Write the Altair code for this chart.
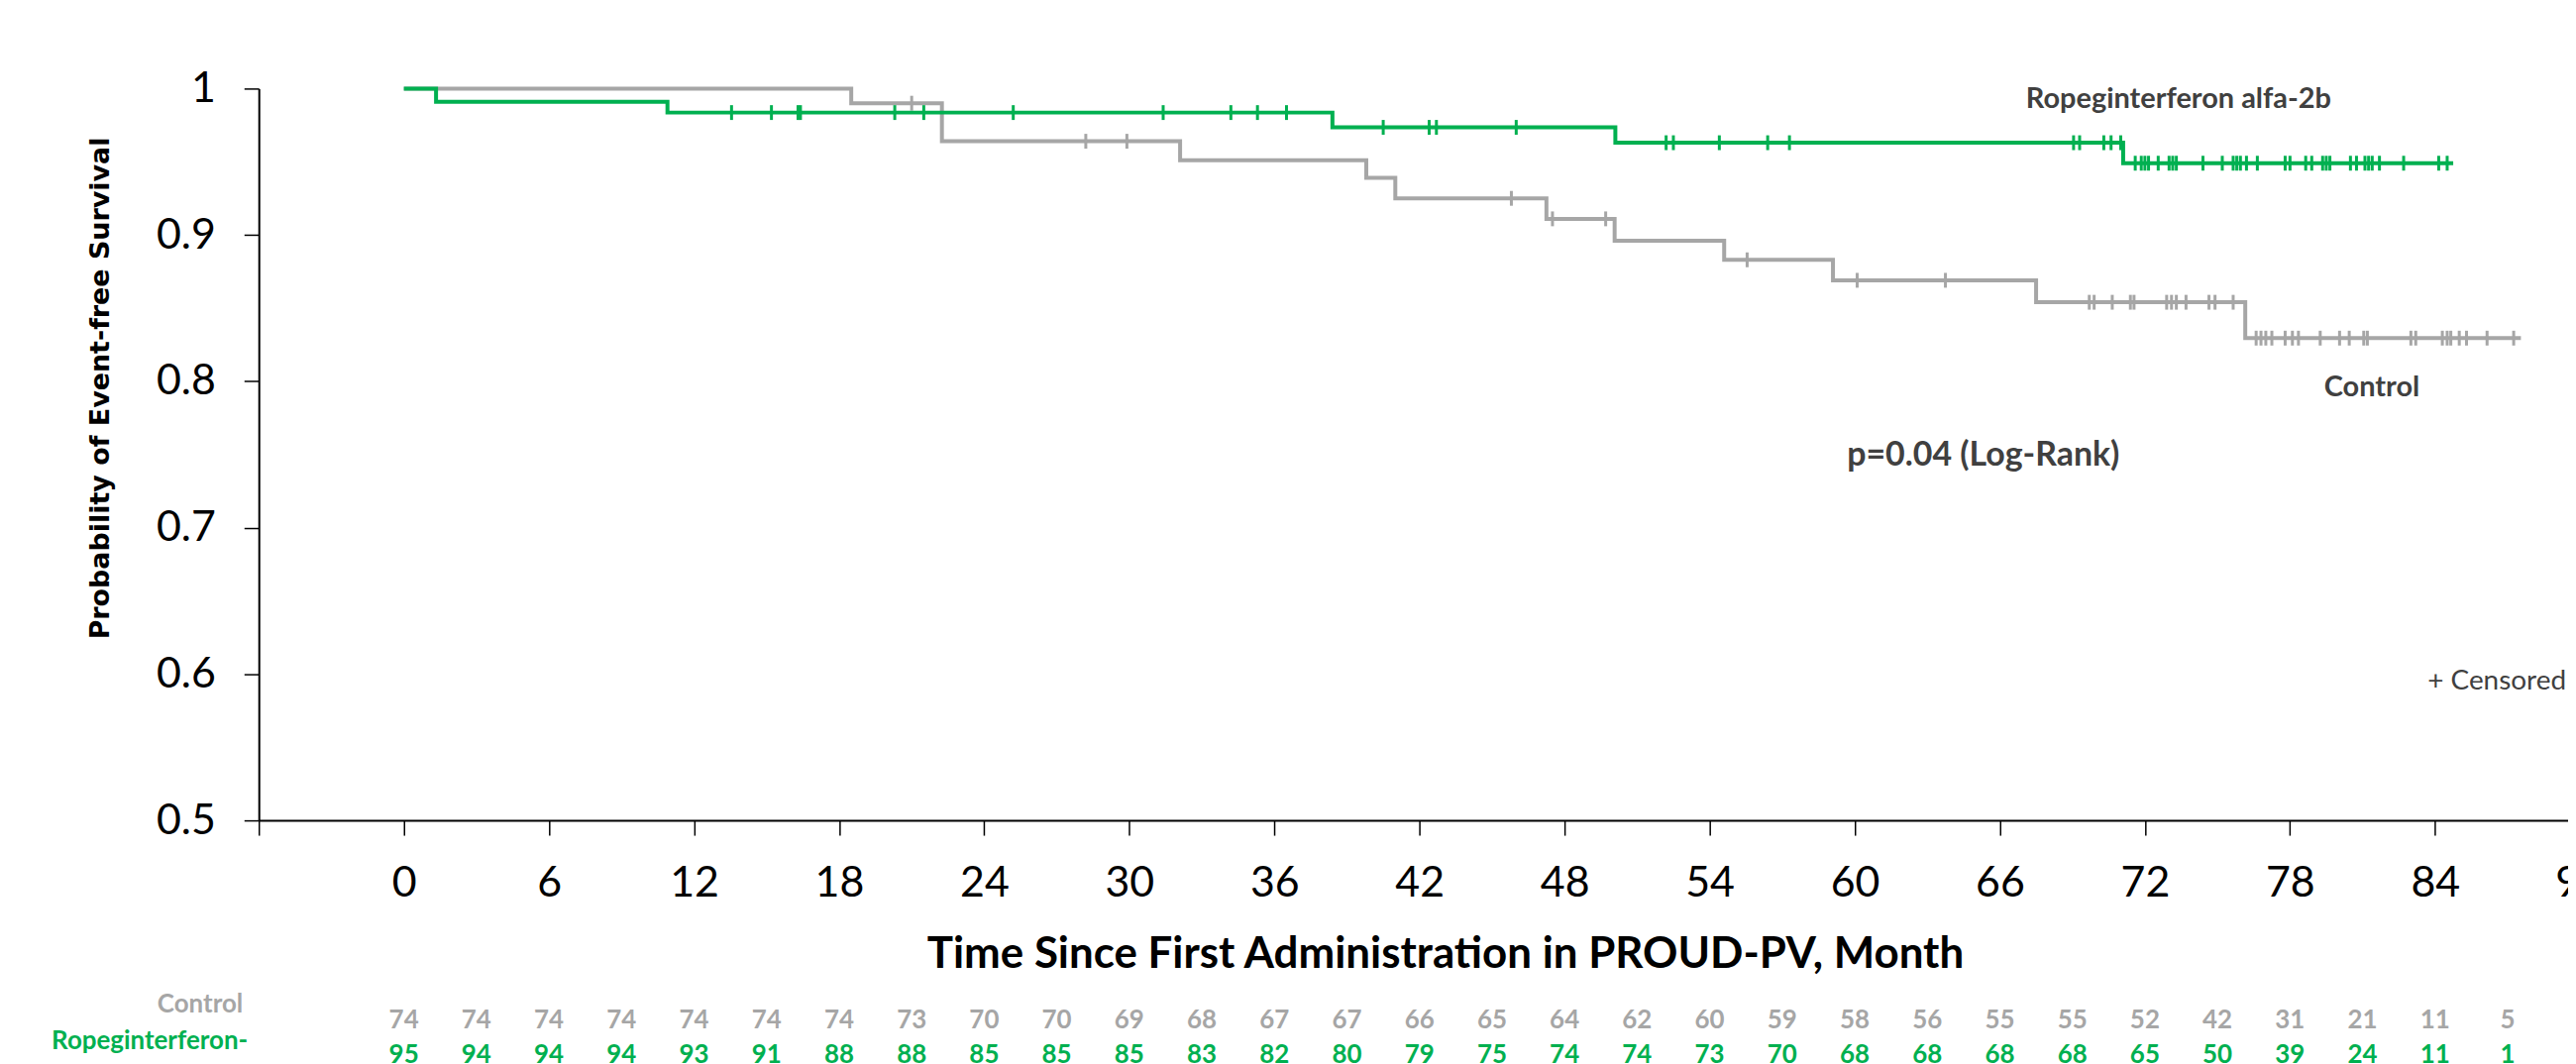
import altair as alt
import pandas as pd

GREEN = "#00B050"
GRAY = "#A6A6A6"
TXT = "#404040"

# Kaplan-Meier step curves: time (months) and survival probability after each step
ctrl_time = [0, 18.5, 22.25, 32.1, 39.8, 41.0, 47.25, 50.07, 54.6, 59.1, 67.5, 76.15, 87.55]
ctrl_surv = [1.0, 0.990, 0.964, 0.951, 0.939, 0.925, 0.911, 0.896, 0.883, 0.869, 0.854, 0.8295, 0.8295]
ropeg_time = [0, 1.33, 10.9, 38.4, 50.1, 71.1, 84.75]
ropeg_surv = [1.0, 0.991, 0.9836, 0.9735, 0.963, 0.949, 0.949]

# censoring times (months)
ctrl_censor = [21.0, 28.2, 29.9, 45.8, 47.5, 49.7, 55.55, 60.1, 63.75, 69.7, 69.9, 70.65,
               71.4, 71.55, 72.9, 73.1, 73.3, 73.7, 74.65, 74.9, 75.65, 76.6, 76.8, 77.0,
               77.25, 77.8, 78.1, 78.35, 79.25, 80.05, 80.45, 81.05, 81.2, 83.0, 83.2, 84.3,
               84.5, 84.65, 85.0, 85.3, 86.15, 87.25]
ropeg_censor = [13.55, 15.2, 16.3, 16.4, 20.3, 21.5, 25.2, 31.4, 34.2, 35.3, 36.5, 40.5,
                42.4, 42.7, 46.0, 52.2, 52.5, 54.4, 56.4, 57.3, 69.05, 69.3, 70.3, 70.6,
                71.0, 71.6, 71.85, 72.0, 72.15, 72.55, 73.0, 73.15, 73.3, 74.4, 75.2, 75.65,
                75.8, 75.95, 76.2, 76.65, 77.8, 78.0, 78.65, 78.9, 79.35, 79.5, 79.65, 80.5,
                80.75, 81.1, 81.25, 81.4, 81.7, 82.7, 84.15, 84.5]

# numbers at risk
risk_months = [0, 3, 6, 9, 12, 15, 18, 21, 24, 27, 30, 33, 36, 39, 42, 45, 48, 51, 54, 57,
               60, 63, 66, 69, 72, 75, 78, 81, 84, 87]
ctrl_risk = [74, 74, 74, 74, 74, 74, 74, 73, 70, 70, 69, 68, 67, 67, 66, 65, 64, 62, 60, 59,
             58, 56, 55, 55, 52, 42, 31, 21, 11, 5]
ropeg_risk = [95, 94, 94, 94, 93, 91, 88, 88, 85, 85, 85, 83, 82, 80, 79, 75, 74, 74, 73, 70,
              68, 68, 68, 68, 65, 50, 39, 24, 11, 1]

x_ticks = [-6, 0, 6, 12, 18, 24, 30, 36, 42, 48, 54, 60, 66, 72, 78, 84, 90]
x_edge_labels = [90]  # last tick label, lies just past the visible plot edge
y_ticks = [0.5, 0.6, 0.7, 0.8, 0.9, 1.0]


def surv_at(times, survs, t):
    val = survs[0]
    for ti, si in zip(times, survs):
        if ti <= t:
            val = si
    return val


ctrl_df = pd.DataFrame({"t": ctrl_time, "s": ctrl_surv})
ropeg_df = pd.DataFrame({"t": ropeg_time, "s": ropeg_surv})
ctrl_c_df = pd.DataFrame({"t": ctrl_censor, "s": [surv_at(ctrl_time, ctrl_surv, t) for t in ctrl_censor]})
ropeg_c_df = pd.DataFrame({"t": ropeg_censor, "s": [surv_at(ropeg_time, ropeg_surv, t) for t in ropeg_censor]})
ctrl_r_df = pd.DataFrame({"t": risk_months, "n": ctrl_risk})
ropeg_r_df = pd.DataFrame({"t": risk_months, "n": ropeg_risk})

x_scale = alt.Scale(domain=[-6, 89.5], nice=False, zero=False)
y_scale = alt.Scale(domain=[0.5, 1.0], nice=False, zero=False)

x_axis = alt.Axis(
    values=x_ticks, format="d", labelExpr="datum.value < 0 ? '' : datum.label",
    title="Time Since First Administration in PROUD-PV, Month",
    labelFont="Lato", labelFontSize=43, labelColor="black", labelPadding=28,
    labelFlush=False, labelOverlap=False,
    tickSize=15, tickColor="black", tickWidth=1.5,
    domainColor="black", domainWidth=2, grid=False,
    titleFont="Lato", titleFontSize=44, titleFontWeight="bold", titleColor="black",
    titleX=1201, titleY=149, titleAlign="center", titleBaseline="alphabetic",
)
y_axis = alt.Axis(
    values=y_ticks, format=".1~f",
    title="Probability of Event-free Survival",
    labelFont="Lato", labelFontSize=43, labelColor="black", labelPadding=29,
    tickSize=15, tickColor="black", tickWidth=1.5,
    domainColor="black", domainWidth=2, grid=False,
    titleFont="DejaVu Sans", titleFontSize=27, titleFontWeight="bold", titleColor="black",
    titleAngle=270, titleX=-152, titleY=303, titleAlign="center", titleBaseline="alphabetic",
)


def X():
    return alt.X("t:Q", scale=x_scale, axis=x_axis)


def Y():
    return alt.Y("s:Q", scale=y_scale, axis=y_axis)


ctrl_line = alt.Chart(ctrl_df).mark_line(interpolate="step-after", strokeWidth=4, color=GRAY).encode(x=X(), y=Y())
ropeg_line = alt.Chart(ropeg_df).mark_line(interpolate="step-after", strokeWidth=4, color=GREEN).encode(x=X(), y=Y())
ctrl_ticks = alt.Chart(ctrl_c_df).mark_tick(orient="vertical", size=15, thickness=3, color=GRAY, opacity=1).encode(x=X(), y=Y())
ropeg_ticks = alt.Chart(ropeg_c_df).mark_tick(orient="vertical", size=15, thickness=3, color=GREEN, opacity=1).encode(x=X(), y=Y())

edge_lbl = alt.Chart(pd.DataFrame({"t": x_edge_labels})).mark_text(
    font="Lato", fontSize=43, color="black", align="center", baseline="top"
).encode(x=X(), y=alt.value(784), text="t:Q")

ctrl_risk_txt = alt.Chart(ctrl_r_df).mark_text(
    font="Lato", fontWeight="bold", fontSize=26, color=GRAY, align="center", baseline="alphabetic"
).encode(x=X(), y=alt.value(952), text="n:Q")
ropeg_risk_txt = alt.Chart(ropeg_r_df).mark_text(
    font="Lato", fontWeight="bold", fontSize=26, color=GREEN, align="center", baseline="alphabetic"
).encode(x=X(), y=alt.value(987), text="n:Q")

ctrl_row_lbl = alt.Chart(pd.DataFrame({"label": ["Control"]})).mark_text(
    font="Lato", fontWeight="bold", fontSize=26, color=GRAY, align="right", baseline="alphabetic"
).encode(x=alt.value(-16), y=alt.value(935), text="label:N")
ropeg_row_lbl = alt.Chart(pd.DataFrame({"label": ["Ropeginterferon-"]})).mark_text(
    font="Lato", fontWeight="bold", fontSize=26, color=GREEN, align="right", baseline="alphabetic"
).encode(x=alt.value(-11), y=alt.value(973), text="label:N")

ann_bold = pd.DataFrame({
    "label": ["Ropeginterferon alfa-2b", "Control", "p=0.04 (Log-Rank)"],
    "t": [67.08, 79.41, 59.68],
    "s": [0.9865, 0.7898, 0.7426],
    "size": [29, 29, 34],
})
ann_txt = alt.Chart(ann_bold).mark_text(
    font="Lato", fontWeight="bold", color=TXT, align="left", baseline="alphabetic"
).encode(
    x=X(), y=Y(),
    text="label:N",
    size=alt.Size("size:Q", scale=None, legend=None),
)
cens_lbl = alt.Chart(pd.DataFrame({"label": ["+ Censored"], "t": [89.42], "s": [0.5896]})).mark_text(
    font="Lato", fontSize=28, color=TXT, align="right", baseline="alphabetic"
).encode(x=X(), y=Y(), text="label:N")

chart = alt.layer(
    ctrl_line, ctrl_ticks, ropeg_line, ropeg_ticks, edge_lbl,
    ctrl_risk_txt, ropeg_risk_txt, ctrl_row_lbl, ropeg_row_lbl, ann_txt, cens_lbl,
).properties(
    width=2338, height=741,
    padding={"left": 254, "top": 80, "right": 0, "bottom": 245},
    autosize=alt.AutoSizeParams(type="none"),
    background="white",
).configure_view(stroke=None)

chart.save("out.html", embed_options={"renderer": "svg", "actions": False})
